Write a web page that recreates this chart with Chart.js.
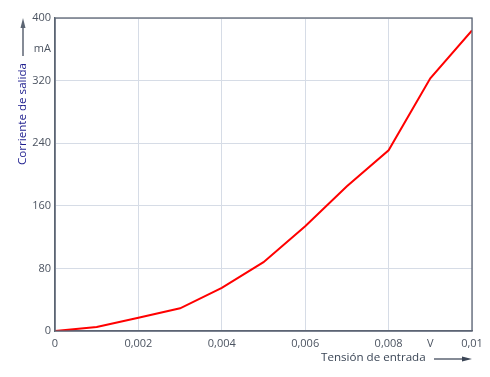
<!DOCTYPE html>
<html><head><meta charset="utf-8">
<script src="https://cdn.jsdelivr.net/npm/chart.js@4/dist/chart.umd.min.js"></script>
<style>html,body{margin:0;padding:0;background:#fff}#w{width:490px;height:377px}</style>
</head><body><div id="w"><canvas id="c" width="490" height="377"></canvas></div>
<script>
const xValues = [0,0.001,0.002,0.003,0.004,0.005,0.006,0.007,0.008,0.009,0.01];
const yValues = [0,5,17,29,55,88,134,185,231,323,384];
const xTicks = [0,0.002,0.004,0.006,0.008,0.009,0.01];
const xTickLabels = ['0','0,002','0,004','0,006','0,008','V','0,01'];
const yTicks = [0,80,160,240,320,360,400];
const yTickLabels = ['0','80','160','240','320','mA','400'];
const xTitle = 'Tensión de entrada';
const yTitle = 'Corriente de salida';

const gridCol = '#d6dce6', axisCol = '#5c6573', tickCol = '#4c5461';
const FONT = "'Open Sans', sans-serif";

const frame = {
  id:'frame',
  afterDraw(chart){
    const {ctx, chartArea:a} = chart;
    ctx.save();
    ctx.strokeStyle = axisCol; ctx.lineWidth = 1.3;
    ctx.strokeRect(a.left, a.top, a.right-a.left, a.bottom-a.top);
    // y title + arrow
    ctx.fillStyle = '#1d1d8e';
    ctx.font = "11.6px " + FONT;
    ctx.translate(23, 114); ctx.rotate(-Math.PI/2);
    ctx.textAlign='center'; ctx.textBaseline='middle';
    ctx.fillText(yTitle, 0, 0);
    ctx.setTransform(1,0,0,1,0,0);
    ctx.strokeStyle = axisCol; ctx.fillStyle = axisCol; ctx.lineWidth=1.5;
    ctx.beginPath(); ctx.moveTo(23,56); ctx.lineTo(23,26); ctx.stroke();
    ctx.beginPath(); ctx.moveTo(23,18); ctx.lineTo(20.5,28); ctx.lineTo(25.5,28); ctx.closePath(); ctx.fill();
    // x title + arrow
    ctx.fillStyle = '#3b4656';
    ctx.textAlign='left'; ctx.textBaseline='middle';
    ctx.fillText(xTitle, 321, 358);
    ctx.beginPath(); ctx.moveTo(434,359); ctx.lineTo(463,359); ctx.stroke();
    ctx.beginPath(); ctx.moveTo(472,359); ctx.lineTo(462,356.5); ctx.lineTo(462,361.5); ctx.closePath(); ctx.fill();
    ctx.restore();
  }
};

new Chart(document.getElementById('c'), {
  type:'line',
  data:{ datasets:[{ data: xValues.map((x,i)=>({x, y:yValues[i]})), borderColor:'#ff0000', borderWidth:2, pointRadius:0, tension:0 }]},
  options:{
    responsive:false, animation:false,
    layout:{ padding:{ left:0, right:18, top:18, bottom:0 } },
    plugins:{ legend:{display:false}, tooltip:{enabled:false} },
    scales:{
      x:{ type:'linear', min:0, max:0.01,
        afterBuildTicks(s){ s.ticks = xTicks.map(v=>({value:v})); },
        afterFit(s){ s.height = 46; },
        border:{ color:axisCol, width:1.3 },
        grid:{ color:c=> (c.tick && c.tick.value===0.009) ? 'rgba(0,0,0,0)' : gridCol, drawTicks:false },
        ticks:{ autoSkip:false, maxRotation:0, padding:6, color:tickCol, font:{family:FONT, size:11},
          callback:(v,i)=> xTickLabels[i] }
      },
      y:{ type:'linear', min:0, max:400,
        afterBuildTicks(s){ s.ticks = yTicks.map(v=>({value:v})); },
        afterFit(s){ s.width = 55; },
        border:{ color:axisCol, width:1.3 },
        grid:{ color:c=> (c.tick && c.tick.value===360) ? 'rgba(0,0,0,0)' : gridCol, drawTicks:false },
        ticks:{ autoSkip:false, padding:4, color:tickCol, font:{family:FONT, size:11},
          callback:(v,i)=> yTickLabels[i] }
      }
    }
  },
  plugins:[frame]
});
</script></body></html>
